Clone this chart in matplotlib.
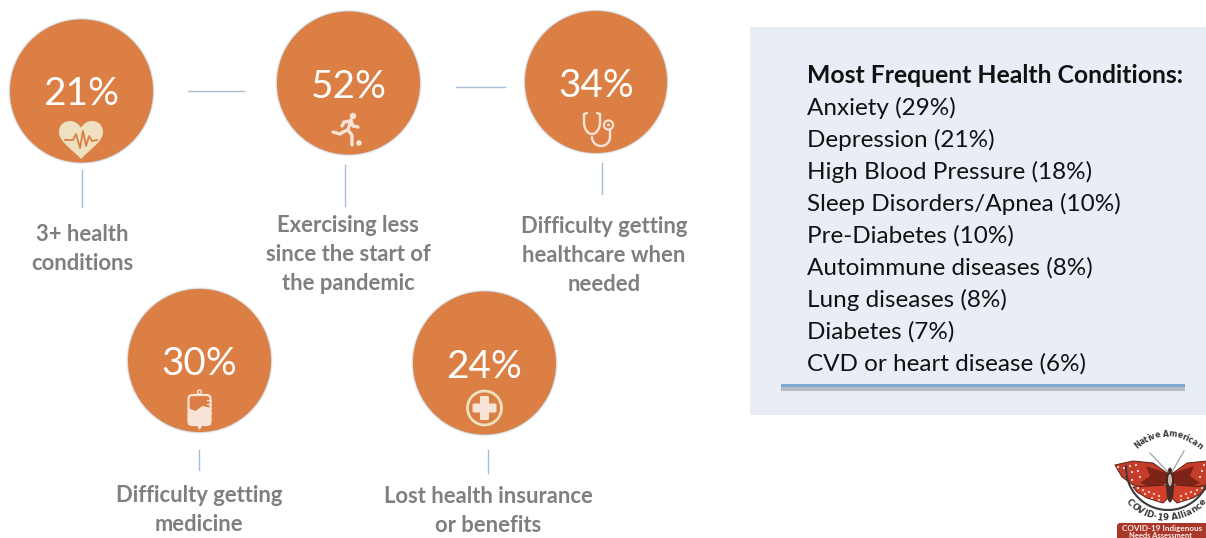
import numpy as np
import matplotlib
matplotlib.use('Agg')
import matplotlib.pyplot as plt
from matplotlib.patches import Circle, Rectangle, FancyBboxPatch, PathPatch, Polygon, Ellipse
from matplotlib.path import Path
from matplotlib.textpath import TextPath
from matplotlib.font_manager import FontProperties

# stat bubbles
stat_values = [21, 52, 34, 30, 24]
stat_labels = [
    ['3+ health', 'conditions'],
    ['Exercising less', 'since the start of', 'the pandemic'],
    ['Difficulty getting', 'healthcare when', 'needed'],
    ['Difficulty getting', 'medicine'],
    ['Lost health insurance', 'or benefits'],
]

# conditions list on the right
table_title = 'Most Frequent Health Conditions:'
conditions = ['Anxiety', 'Depression', 'High Blood Pressure', 'Sleep Disorders/Apnea',
              'Pre-Diabetes', 'Autoimmune diseases', 'Lung diseases', 'Diabetes',
              'CVD or heart disease']
condition_pcts = [29, 21, 18, 10, 10, 8, 8, 7, 6]

# layout, in pixels from the top left
centers = [(81.5, 91), (348.5, 83), (596, 82), (199.5, 360.5), (484.5, 363)]
radii = [71.5, 71.5, 71, 71.5, 71.5]
number_base = [105, 98, 97, 375, 378]
label_x = [82, 348, 604, 199, 488]
label_base = [241, 232, 233, 502, 503]
hlines = [(188, 244, 91), (456, 505, 87)]
vlines = [(82, 170, 207), (345, 165, 206), (602, 163, 194), (199, 450, 470), (488, 450, 473)]

ORANGE = '#dc7f45'
CREAM = '#efe0c2'
PALE = '#f8e4d6'
LINE = '#a5bdd6'
GRAY = '#7f7f7f'

plt.rcParams['font.family'] = ['Lato', 'DejaVu Sans']

fig = plt.figure(figsize=(12.06, 5.38), dpi=100)
ax = fig.add_axes([0, 0, 1, 1])
ax.set_xlim(0, 1206)
ax.set_ylim(538, 0)
ax.axis('off')

for x0, x1, y in hlines:
    ax.plot([x0, x1], [y, y], color=LINE, lw=1)
for x, y0, y1 in vlines:
    ax.plot([x, x], [y0, y1], color=LINE, lw=1)

for (cx, cy), r, val, base in zip(centers, radii, stat_values, number_base):
    # soft edge around each disc
    for extra, alpha in [(2.0, 0.05), (1.2, 0.10), (0.6, 0.20)]:
        ax.add_patch(Circle((cx, cy), r + extra, fc='#5f6f80', ec='none', alpha=alpha))
    ax.add_patch(Circle((cx, cy), r, fc=ORANGE, ec='none'))
    ax.text(cx, base, f'{val}%', color='white', fontsize=27.8, ha='center', va='baseline')

for lines, x, base in zip(stat_labels, label_x, label_base):
    for i, line in enumerate(lines):
        ax.text(x, base + 29 * i, line, color=GRAY, fontsize=15.8, fontweight='bold',
                ha='center', va='baseline')

# heart with pulse trace
hx, hy = 81, 140
heart = Path(
    [(hx, hy + 19), (hx - 8, hy + 10), (hx - 22, hy + 2), (hx - 22, hy - 8),
     (hx - 22, hy - 15), (hx - 17, hy - 19), (hx - 11, hy - 19),
     (hx - 6, hy - 19), (hx - 2, hy - 16), (hx, hy - 12),
     (hx + 2, hy - 16), (hx + 6, hy - 19), (hx + 11, hy - 19),
     (hx + 17, hy - 19), (hx + 22, hy - 15), (hx + 22, hy - 8),
     (hx + 22, hy + 2), (hx + 8, hy + 10), (hx, hy + 19)],
    [Path.MOVETO] + [Path.CURVE4] * 18)
ax.add_patch(PathPatch(heart, fc=CREAM, ec='none'))
ax.plot(np.array([-16, -8, -5, -1, 2, 5, 8, 11, 16]) + hx,
        np.array([0, 0, -6, 8, -9, 6, -4, 1, 0]) + hy,
        color=ORANGE, lw=1.3, solid_joinstyle='round')

# runner kicking a ball
rx, ry = 347, 129
ax.add_patch(Circle((rx + 6, ry - 13), 3.2, fc=PALE, ec='none'))
for seg in [[(4, -9), (1, 1)], [(4, -8), (-3, -7), (-5, -3)], [(4, -8), (6, -3), (11, -2)],
            [(1, 1), (-4, 3), (-7, 5), (-14, 3)], [(1, 1), (5, 6), (5, 16)]]:
    xs, ys = zip(*seg)
    ax.plot(np.array(xs) + rx, np.array(ys) + ry, color=PALE, lw=2.4, solid_capstyle='round')
ax.add_patch(Circle((rx + 12, ry + 14), 2.8, fc=PALE, ec='none'))

# stethoscope
st_kw = dict(color=PALE, lw=1.7, solid_capstyle='round')
t = np.linspace(np.pi, 0, 40)
ax.plot(592 + 8 * np.cos(t), 122 + 12 * np.sin(t), **st_kw)
ax.plot([584, 584, 587], [122, 114, 113], **st_kw)
ax.plot([600, 600, 597], [122, 114, 113], **st_kw)
ax.plot(601 + 9 * np.cos(t), 137 + 9 * np.sin(t), **st_kw)
ax.plot([610, 610], [137, 129], **st_kw)
ax.add_patch(Circle((608.5, 125), 4.6, fc=ORANGE, ec=PALE, lw=1.5))
ax.add_patch(Circle((608.5, 125), 1.4, fc=PALE, ec='none'))

# drip bag
bx, by = 199.5, 410
ax.add_patch(Circle((bx, by - 18), 2, fc='none', ec=PALE, lw=1))
ax.add_patch(FancyBboxPatch((bx - 11, by - 15), 22, 30, boxstyle='round,pad=0,rounding_size=4',
                            fc=ORANGE, ec=PALE, lw=1.6))
bag_fill = Path([(bx - 11.5, by - 2), (bx - 4, by + 1), (bx + 3, by - 4), (bx + 11.5, by - 2),
                 (bx + 11.5, by + 15), (bx - 11.5, by + 15), (bx - 11.5, by - 2)],
                [Path.MOVETO, Path.LINETO, Path.LINETO, Path.LINETO, Path.LINETO, Path.LINETO, Path.CLOSEPOLY])
ax.add_patch(PathPatch(bag_fill, fc=PALE, ec='none'))
ax.add_patch(Polygon([(bx - 3, by + 15), (bx + 3, by + 15), (bx, by + 20)], fc=PALE, ec='none'))
for k in range(4):
    ax.plot([bx + 7, bx + 11], [by - 10 + 4 * k] * 2, color=PALE, lw=0.8)

# medical cross badge
px, py = 484.5, 408
ax.add_patch(Circle((px, py), 17, fc='none', ec=CREAM, lw=2))
ax.add_patch(FancyBboxPatch((px - 12, py - 4.5), 24, 9, boxstyle='round,pad=0,rounding_size=1.5', fc=PALE, ec='none'))
ax.add_patch(FancyBboxPatch((px - 4.5, py - 12), 9, 24, boxstyle='round,pad=0,rounding_size=1.5', fc=PALE, ec='none'))

# conditions panel
ax.add_patch(Rectangle((750, 27), 456, 388, fc='#e9eef6', ec='none'))
ax.text(807, 83, table_title, color='#111111', fontsize=17.8, fontweight='bold', va='baseline')
for i, (name, pct) in enumerate(zip(conditions, condition_pcts)):
    ax.text(807, 115 + 32 * i, f'{name} ({pct}%)', color='#111111', fontsize=17.5, va='baseline')
ax.add_patch(Rectangle((781, 387), 404, 3.5, fc='#a9adb3', ec='none', alpha=0.8))
ax.add_patch(Rectangle((781, 384), 404, 2.6, fc='#7fa9d2', ec='none'))

# alliance logo: ring under the wings, then the butterfly
lx, ly = 1170, 480
a = np.deg2rad(np.linspace(-92, 80, 80))
ax.plot(1168 + 42 * np.sin(a), 468 + 42 * np.cos(a), color='#3a3a3a', lw=1.5)
ax.plot([lx - 2, lx - 20], [ly - 8, ly - 27], color='#999999', lw=0.8)
ax.plot([lx + 2, lx + 14], [ly - 8, ly - 29], color='#999999', lw=0.8)
upper = [(55, -15), (37, -19), (17, -17), (3, -7), (2, 3), (20, 8), (37, 5), (48, -3)]
upper_dark = [(24, -14), (3, -7), (2, 3), (20, 7), (30, 3), (20, -4)]
lower = [(37, 7), (3, 5), (2, 18), (7, 23), (23, 18), (33, 12)]
spots = [(52, -13), (46, -12), (40, -14), (34, -15), (44, -6), (38, -8), (32, -9), (30, -3), (38, 0),
         (32, 8), (27, 10), (21, 12), (16, 14), (11, 16), (25, 14), (18, 18), (11, 20)]
for sign in (-1, 1):
    ax.add_patch(Polygon([(lx + sign * p, ly + q) for p, q in upper], fc='#c43d2a', ec='#5f1e14', lw=0.7, joinstyle='round'))
    ax.add_patch(Polygon([(lx + sign * p, ly + q) for p, q in upper_dark], fc='#7e2318', ec='none'))
    ax.add_patch(Polygon([(lx + sign * p, ly + q) for p, q in lower], fc='#d33f2a', ec='#5f1e14', lw=0.7, joinstyle='round'))
    for p, q in spots:
        ax.add_patch(Circle((lx + sign * p, ly + q), 1.1, fc='#f3d9cf', ec='none'))
ax.add_patch(Ellipse((lx, ly + 5), 8, 35, fc='#4a2a22', ec='none'))
ax.add_patch(Ellipse((lx, ly), 4, 12, fc='#c9b9ae', ec='none'))


def arc_text(s, cx, cy, radius, size, top=True):
    # lay out glyphs one by one along a circle, spaced by their own advance width
    fp = FontProperties(family='DejaVu Sans', weight='bold', size=size)
    px_size = 100 / 72
    widths = []
    for ch in s:
        bb = TextPath((0, 0), 'n' + ch + 'n', prop=fp).get_extents().width
        bb0 = TextPath((0, 0), 'nn', prop=fp).get_extents().width
        widths.append((bb - bb0) * px_size)
    pos = np.cumsum(widths) - np.array(widths) / 2 - sum(widths) / 2
    for ch, p in zip(s, pos):
        ang = p / radius
        x = cx + radius * np.sin(ang)
        if top:
            y = cy - radius * np.cos(ang)
            rot = -np.rad2deg(ang)
        else:
            y = cy + radius * np.cos(ang)
            rot = np.rad2deg(ang)
        ax.text(x, y, ch, fontproperties=fp, color='#3a3a3a', ha='center', va='center',
                rotation=rot, rotation_mode='anchor')


arc_text('Native American', 1168, 480, 46, 5.6, top=True)
arc_text('COVID-19 Alliance', 1166, 468, 50, 6.2, top=False)

ax.add_patch(FancyBboxPatch((1117, 523), 120, 30, boxstyle='round,pad=0,rounding_size=3', fc='#a9382a', ec='none'))
ax.text(1122, 529, 'COVID-19 Indigenous', color='#fbeee8', fontsize=5.9, fontweight='bold', va='center')
ax.text(1129, 535, 'Needs Assessment', color='#fbeee8', fontsize=5.4, fontweight='bold', va='center')

fig.savefig('out.png', dpi=100, facecolor='white')
